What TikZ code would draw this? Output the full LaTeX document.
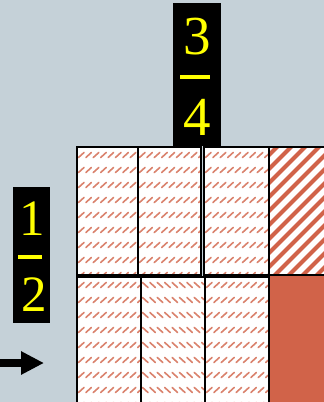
\documentclass[tikz,border=0pt]{standalone}
\usepackage{fontspec}
\setmainfont{Liberation Serif}
\usetikzlibrary{arrows.meta}
\definecolor{bggray}{RGB}{197,209,216}
\definecolor{brick}{RGB}{209,99,73}
\definecolor{fracyellow}{RGB}{255,255,0}

\begin{document}
\begin{tikzpicture}[x=1pt, y=-1pt,
  fracbox/.style={fill=black, inner sep=0pt},
  digit/.style={text=fracyellow, inner sep=0pt},
  bar/.style={fracyellow, line width=3.3pt},
  cellline/.style={draw=black, line width=2.4pt},
  hatch/.style={brick!80, line width=1.6pt, line cap=round},
  stripe/.style={brick, line width=4pt},
  arr/.style={-{Triangle[length=23pt,width=22pt]}, line width=8pt}
]
  \fill[bggray] (0,0) rectangle (324,402);
  \useasboundingbox (0,0) rectangle (324,402);

  \foreach \xa/\ya/\xb/\yb/\dir in {77/147/138/275/1, 138/147/201/275/1,
      204/147/269/275/1, 77/277/141/404/1, 141/277/205/404/-1, 205/277/269/404/1} {
    \fill[white] (\xa,\ya) rectangle (\xb,\yb);
    \begin{scope}
      \clip (\xa,\ya) rectangle (\xb,\yb);
      \foreach \row in {0,...,8}
        \foreach \col in {0,...,9}
          \draw[hatch] ({\xa+1.5+\col*7.4},{\ya+8+\row*15+2.5*\dir}) -- ++(5.5,{-5*\dir});
    \end{scope}
    \draw[cellline] (\xa,\ya) rectangle (\xb,\yb);
  }

  \fill[white] (269,147) rectangle (326,275);
  \begin{scope}
    \clip (269,147) rectangle (326,275);
    \foreach \k in {0,...,16}
      \draw[stripe] ({120+\k*14},290) -- ++(150,-150);
  \end{scope}
  \fill[brick] (269,275) rectangle (326,404);
  \draw[cellline] (269,147) rectangle (326,275);
  \draw[cellline] (269,275) rectangle (326,404);

  \node[fracbox, minimum width=48pt, minimum height=143pt] (topbox) at (197,74.5) {};
  \node[digit, font=\fontsize{55}{55}\selectfont] (three) at (197.5,37) {3};
  \draw[bar] (180,77) -- (210,77);
  \node[digit, font=\fontsize{55}{55}\selectfont] (four) at (197,117.5) {4};

  \node[fracbox, minimum width=37pt, minimum height=136pt] (leftbox) at (31.5,255) {};
  \node[digit, font=\fontsize{51}{51}\selectfont] (one) at (32,219) {1};
  \draw[bar] (18,257) -- (42,257);
  \node[digit, font=\fontsize{51}{51}\selectfont] (two) at (34,295) {2};

  \coordinate (arrtail) at (0,363);
  \coordinate (arrtip) at (44,363);
  \draw[arr] (arrtail) -- (arrtip);
\end{tikzpicture}
\end{document}
